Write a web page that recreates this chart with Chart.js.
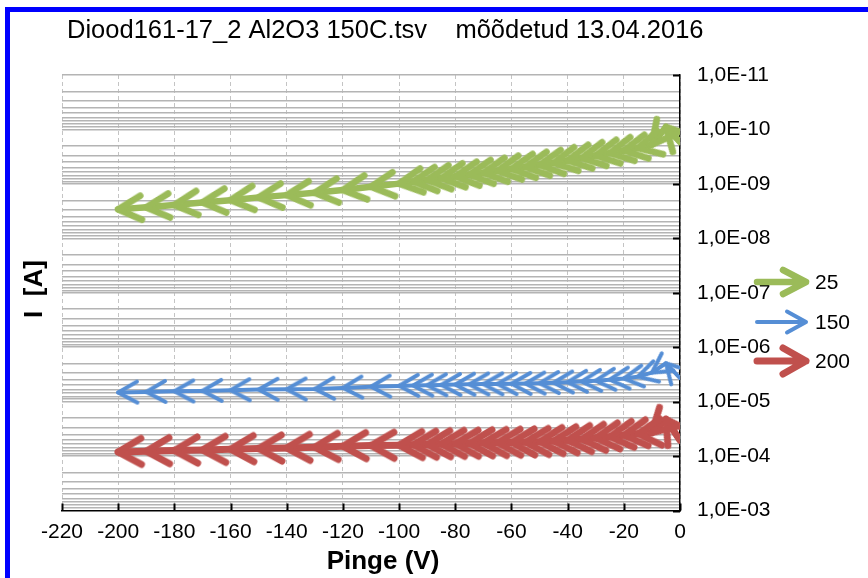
<!DOCTYPE html>
<html>
<head>
<meta charset="utf-8">
<script src="https://cdn.jsdelivr.net/npm/chart.js@4"></script>
<style>
html,body{margin:0;padding:0;background:#fff;}
#wrap{position:relative;width:868px;height:578px;overflow:hidden;background:#fff;}
#frame{position:absolute;left:5px;top:7px;right:-20px;bottom:-20px;border-left:5px solid #0000ff;border-top:5px solid #0000ff;pointer-events:none;}
canvas{display:block;background:#fff;}
</style>
</head>
<body>
<div id="wrap"><canvas id="c" width="868" height="578"></canvas><div id="frame"></div></div>
<script>
// ---- data ----
const chartTitle = 'Diood161-17_2 Al2O3 150C.tsv    mõõdetud 13.04.2016';
const xAxisTitle = 'Pinge (V)';
const yAxisTitle = 'I  [A]';
const seriesNames = ['25', '150', '200'];
const voltages = [0,-5,-10,-15,-20,-25,-30,-35,-40,-45,-50,-55,-60,-65,-70,-75,-80,-85,-90,-95,-100,
                  -110,-120,-130,-140,-150,-160,-170,-180,-190,-200];
const current25 = [1.7e-10,9.0e-11,1.9e-10,2.2e-10,2.44e-10,2.72e-10,3.02e-10,3.36e-10,3.73e-10,4.15e-10,4.5e-10,
                   4.9e-10,5.3e-10,5.8e-10,6.3e-10,6.8e-10,7.3e-10,7.9e-10,8.5e-10,9.1e-10,9.9e-10,
                   1.13e-9,1.30e-9,1.46e-9,1.61e-9,1.77e-9,1.99e-9,2.19e-9,2.45e-9,2.70e-9,2.94e-9];
const current150 = [3.72e-6,1.97e-6,2.94e-6,3.48e-6,3.76e-6,3.95e-6,4.13e-6,4.28e-6,4.40e-6,4.50e-6,4.59e-6,
                    4.65e-6,4.69e-6,4.73e-6,4.76e-6,4.81e-6,4.87e-6,4.93e-6,5.0e-6,5.06e-6,5.14e-6,
                    5.32e-6,5.6e-6,5.85e-6,5.92e-6,6.0e-6,6.16e-6,6.35e-6,6.44e-6,6.64e-6,6.8e-6];
const current200 = [5.13e-5,2.11e-5,3.73e-5,3.89e-5,4.15e-5,4.42e-5,4.67e-5,4.91e-5,5.13e-5,5.30e-5,5.46e-5,
                    5.55e-5,5.62e-5,5.70e-5,5.77e-5,5.85e-5,5.91e-5,6.01e-5,6.12e-5,6.22e-5,6.33e-5,
                    6.41e-5,6.61e-5,6.89e-5,7.10e-5,7.28e-5,7.50e-5,7.73e-5,7.93e-5,8.17e-5,8.41e-5];
const xTicks = [-220,-200,-180,-160,-140,-120,-100,-80,-60,-40,-20,0];
const yDecades = [1e-11,1e-10,1e-9,1e-8,1e-7,1e-6,1e-5,1e-4,1e-3];
const yTickLabels = ['1,0E-11','1,0E-10','1,0E-09','1,0E-08','1,0E-07','1,0E-06','1,0E-05','1,0E-04','1,0E-03'];

// ---- styles ----
const FONT = '"Liberation Sans", Arial, sans-serif';
const seriesStyle = [
  {color:'#9bbb59', lw:6.5, dx:23, dy:12},
  {color:'#558ed5', lw:4,   dx:19, dy:10.5},
  {color:'#c0504d', lw:7,   dx:23, dy:13}
];

// minor + major log grid ticks
const yAllTicks = [];
for (let i = 0; i < yDecades.length - 1; i++) {
  for (let k = 1; k <= 9; k++) yAllTicks.push(yDecades[i] * k);
}
yAllTicks.push(yDecades[yDecades.length - 1]);
function decadeIndex(v) {
  for (let j = 0; j < yDecades.length; j++) {
    if (Math.abs(Math.log10(v) - Math.log10(yDecades[j])) < 1e-6) return j;
  }
  return -1;
}

function makeChevron(st, dir) {
  const pad = st.lw + 2;
  const c = document.createElement('canvas');
  c.width = Math.ceil(2 * (st.dx + pad));
  c.height = Math.ceil(2 * (st.dy + pad));
  const g = c.getContext('2d');
  const cx = c.width / 2, cy = c.height / 2;
  g.strokeStyle = st.color; g.lineWidth = st.lw; g.lineCap = 'round'; g.lineJoin = 'round';
  g.beginPath();
  g.moveTo(cx + dir * st.dx, cy - st.dy);
  g.lineTo(cx, cy);
  g.lineTo(cx + dir * st.dx, cy + st.dy);
  g.stroke();
  return c;
}

function rotationFor(ctx) {
  const chart = ctx.chart;
  const xs = chart.scales.x, ys = chart.scales.y;
  const d = chart.data.datasets[ctx.datasetIndex].data;
  if (!xs || !ys || d.length < 2) return 0;
  const i = ctx.dataIndex;
  const a = i > 0 ? i - 1 : 0, b = i > 0 ? i : 1;
  const x1 = xs.getPixelForValue(d[a].x), y1 = ys.getPixelForValue(d[a].y);
  const x2 = xs.getPixelForValue(d[b].x), y2 = ys.getPixelForValue(d[b].y);
  if (!isFinite(x1) || !isFinite(y1) || !isFinite(x2) || !isFinite(y2)) return 0;
  return (Math.atan2(y2 - y1, x2 - x1) - Math.PI) * 180 / Math.PI;
}

const seriesValues = [current25, current150, current200];
const datasets = seriesValues.map((vals, s) => ({
  label: seriesNames[s],
  data: voltages.map((v, i) => ({x: v, y: vals[i]})),
  showLine: true,
  borderColor: seriesStyle[s].color,
  backgroundColor: seriesStyle[s].color,
  borderWidth: seriesStyle[s].lw,
  borderCapStyle: 'round',
  borderJoinStyle: 'round',
  pointStyle: makeChevron(seriesStyle[s], 1),
  pointRadius: c => (c.dataIndex === 0 ? 0 : 6),
  pointRotation: rotationFor,
  tension: 0,
  clip: 0
}));

const extras = {
  id: 'extras',
  beforeDatasetsDraw(chart) {
    const {ctx, chartArea: ca, scales: {x, y}} = chart;
    ctx.save();
    ctx.strokeStyle = '#000';
    ctx.lineWidth = 2;
    ctx.beginPath();
    yDecades.forEach(v => {
      const py = Math.round(y.getPixelForValue(v)) + 0.5;
      ctx.moveTo(ca.right - 7, py); ctx.lineTo(ca.right, py);
    });
    xTicks.forEach(v => {
      const px = Math.round(x.getPixelForValue(v)) + 0.5;
      ctx.moveTo(px, ca.bottom - 7); ctx.lineTo(px, ca.bottom);
    });
    ctx.stroke();
    ctx.restore();
  },
  afterDraw(chart) {
    const {ctx} = chart;
    ctx.save();
    ctx.fillStyle = '#000';
    // chart title
    ctx.font = '25.5px ' + FONT;
    ctx.textAlign = 'left';
    ctx.textBaseline = 'middle';
    ctx.fillText(chartTitle, 67, 31);
    // axis titles
    ctx.font = 'bold 26px ' + FONT;
    ctx.textAlign = 'center';
    ctx.fillText(xAxisTitle, 383, 562);
    ctx.save();
    ctx.translate(35, 289);
    ctx.rotate(-Math.PI / 2);
    ctx.fillText(yAxisTitle, 0, 0);
    ctx.restore();
    // legend
    const ly = [282, 322, 361];
    chart.data.datasets.forEach((ds, i) => {
      const st = seriesStyle[i];
      const yy = ly[i];
      ctx.strokeStyle = st.color; ctx.lineWidth = st.lw; ctx.lineCap = 'round'; ctx.lineJoin = 'round';
      ctx.beginPath();
      ctx.moveTo(757, yy); ctx.lineTo(806, yy);
      ctx.moveTo(806 - st.dx, yy - st.dy); ctx.lineTo(806, yy); ctx.lineTo(806 - st.dx, yy + st.dy);
      ctx.stroke();
      ctx.font = '21px ' + FONT;
      ctx.textAlign = 'left';
      ctx.fillStyle = '#000';
      ctx.fillText(ds.label, 815, yy + 1);
    });
    ctx.restore();
  }
};

Chart.defaults.font.family = FONT;
Chart.defaults.color = '#000';

new Chart(document.getElementById('c'), {
  type: 'scatter',
  data: {datasets},
  options: {
    responsive: false,
    animation: false,
    devicePixelRatio: 1,
    events: [],
    layout: {padding: {left: 62, right: 88, top: 75, bottom: 0}},
    plugins: {
      legend: {display: false},
      tooltip: {enabled: false},
      title: {display: false}
    },
    scales: {
      x: {
        type: 'linear', position: 'bottom', min: -220, max: 0,
        afterBuildTicks: s => { s.ticks = xTicks.map(v => ({value: v})); },
        afterFit: s => { s.height = 67.5; },
        ticks: {color: '#000', font: {size: 21}, padding: 9, maxRotation: 0, autoSkip: false},
        grid: {color: '#c4c4c4', lineWidth: 1, drawTicks: false},
        border: {display: true, color: '#000', width: 1.5, dash: [4, 3]}
      },
      y: {
        type: 'logarithmic', position: 'right', reverse: true, min: 1e-11, max: 1e-3,
        afterBuildTicks: s => { s.ticks = yAllTicks.map(v => ({value: v})); },
        afterFit: s => { s.width = 100; },
        ticks: {
          autoSkip: false, color: '#000', font: {size: 21}, padding: 17,
          callback: v => { const j = decadeIndex(v); return j >= 0 ? yTickLabels[j] : ''; }
        },
        grid: {
          color: c => (c.tick && decadeIndex(c.tick.value) === yDecades.length - 1) ? 'rgba(0,0,0,0)' : '#b4b4b4',
          lineWidth: 1.5, drawTicks: false
        },
        border: {display: true, color: '#000', width: 1.5}
      }
    }
  },
  plugins: [extras]
});
</script>
</body>
</html>
